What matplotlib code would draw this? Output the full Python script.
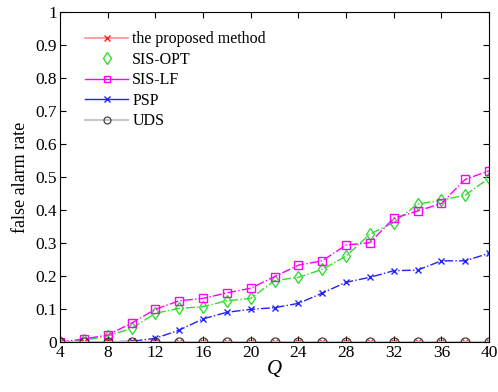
import matplotlib
matplotlib.use('Agg')
import matplotlib.pyplot as plt
from matplotlib.lines import Line2D

plt.rcParams['font.family'] = ['Liberation Serif', 'DejaVu Serif']
plt.rcParams['mathtext.fontset'] = 'custom'
plt.rcParams['mathtext.it'] = 'Liberation Serif:italic'

# data
Q = [4, 6, 8, 10, 12, 14, 16, 18, 20, 22, 24, 26, 28, 30, 32, 34, 36, 38, 40]
proposed = [0, 0, 0, 0, 0, 0, 0, 0, 0, 0, 0, 0, 0, 0, 0, 0, 0, 0, 0]
sis_opt = [0, 0.005, 0.018, 0.041, 0.087, 0.102, 0.107, 0.125, 0.132, 0.186,
           0.196, 0.22, 0.26, 0.327, 0.362, 0.418, 0.43, 0.445, 0.497]
sis_lf = [0, 0.009, 0.021, 0.057, 0.099, 0.125, 0.132, 0.149, 0.163, 0.198,
          0.233, 0.246, 0.294, 0.301, 0.375, 0.397, 0.42, 0.493, 0.519]
psp = [0, 0, 0.001, 0.002, 0.011, 0.036, 0.07, 0.09, 0.099, 0.104,
       0.117, 0.148, 0.181, 0.196, 0.216, 0.218, 0.246, 0.246, 0.269]
uds = [0, 0, 0, 0, 0, 0, 0, 0, 0, 0, 0, 0, 0, 0, 0, 0, 0, 0, 0]

fig = plt.figure(figsize=(4.98, 3.92), dpi=100)
ax = fig.add_axes([0.1205, 0.1276, 0.8615, 0.8414])

ax.plot(Q, sis_opt, '-.', color='#33dd33', lw=1, marker='d', ms=6.5,
        mfc='none', mec='#33dd33')
ax.plot(Q, sis_lf, '-.', color='#ff00ff', lw=1, marker='s', ms=6,
        mfc='none', mec='#ff00ff')
ax.plot(Q, psp, '-.', color='#2222ff', lw=1, marker='x', ms=5)
ax.plot(Q, proposed, '-', color='#ff9090', lw=1.2, marker='x', ms=4,
        mec='#ff2020')
ax.plot(Q, uds, '-', color='#c8c8c8', lw=1.5, marker='o', ms=6.5,
        mfc='none', mec='#333333', mew=0.8)

handles = [
    Line2D([], [], color='#ff9090', lw=1.2, marker='x', ms=4, mec='#ff2020'),
    Line2D([], [], ls='none', marker='d', ms=6, mfc='none', mec='#33dd33'),
    Line2D([], [], color='#ff00ff', lw=1, marker='s', ms=5, mfc='none'),
    Line2D([], [], color='#2222ff', lw=1, marker='x', ms=4),
    Line2D([], [], color='#c8c8c8', lw=1.5, marker='o', ms=5, mfc='none',
           mec='#333333', mew=0.8),
]
labels = ['the proposed method', 'SIS-OPT', 'SIS-LF', 'PSP', 'UDS']
ax.legend(handles, labels, loc='upper left', frameon=False, fontsize=11.5,
          bbox_to_anchor=(0.025, 0.985), handlelength=2.7, labelspacing=0.28,
          handletextpad=0.25)

ax.set_xlim(4, 40)
ax.set_ylim(0, 1)
ax.set_xticks(range(4, 41, 4))
ax.set_yticks([i / 10 for i in range(11)])
ax.set_yticklabels(['0'] + ['0.%d' % i for i in range(1, 10)] + ['1'])
ax.tick_params(direction='in', top=True, right=True, labelsize=12.5,
               length=4, pad=2)
ax.set_xlabel('$Q$', fontsize=15, labelpad=-2)
ax.set_ylabel('false alarm rate', fontsize=13, labelpad=5)
for s in ax.spines.values():
    s.set_linewidth(0.8)

fig.savefig('out.png', dpi=100)
